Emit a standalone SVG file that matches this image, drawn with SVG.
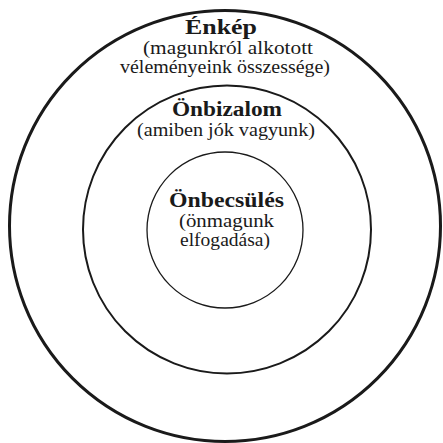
<svg xmlns="http://www.w3.org/2000/svg" width="443" height="443" viewBox="0 0 443 443">
<style>
.ring{fill:none;stroke:#1a1a1a}
.t{font-family:"Liberation Serif","DejaVu Serif",serif;fill:#1a1a1a;text-anchor:middle}
.b{font-weight:bold;font-size:20px}
.n{font-size:18px}
</style>
<rect width="443" height="443" fill="#fff"/>
<g id="enkep">
<circle class="ring" cx="225" cy="226" r="215.5" stroke-width="3"/>
<text class="t b" x="221" y="34" textLength="72" lengthAdjust="spacingAndGlyphs">Énkép</text>
<text class="t n" x="228" y="54" textLength="170" lengthAdjust="spacingAndGlyphs">(magunkról alkotott</text>
<text class="t n" x="225" y="73" textLength="210" lengthAdjust="spacingAndGlyphs">véleményeink összessége)</text>
</g>
<g id="onbizalom">
<circle class="ring" cx="227" cy="229.5" r="144" stroke-width="2"/>
<text class="t b" x="227" y="116" textLength="110" lengthAdjust="spacingAndGlyphs">Önbizalom</text>
<text class="t n" x="226" y="136" textLength="178" lengthAdjust="spacingAndGlyphs">(amiben jók vagyunk)</text>
</g>
<g id="onbecsules">
<circle class="ring" cx="225" cy="230" r="78" stroke-width="1.3"/>
<text class="t b" x="226.5" y="207" textLength="115" lengthAdjust="spacingAndGlyphs">Önbecsülés</text>
<text class="t n" x="226.5" y="227" textLength="95" lengthAdjust="spacingAndGlyphs">(önmagunk</text>
<text class="t n" x="225" y="246" textLength="90" lengthAdjust="spacingAndGlyphs">elfogadása)</text>
</g>
<g id="connectors"/>
</svg>
